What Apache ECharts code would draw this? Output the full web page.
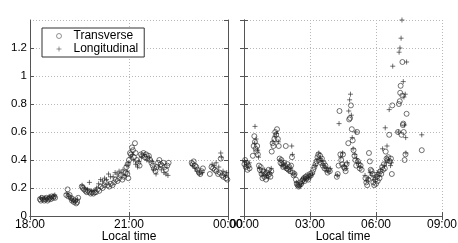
<!DOCTYPE html>
<html><head><meta charset="utf-8">
<script src="https://cdn.jsdelivr.net/npm/echarts@6/dist/echarts.min.js"></script>
<style>html,body{margin:0;padding:0;background:#fff}#c{width:458px;height:243px}</style>
</head><body><div id="c"></div>
<script>
// time = hours since 18:00 (0..15), value
const transverseTime = [
0.30,0.33,0.36,0.40,0.43,0.47,0.50,0.53,0.56,0.60,0.63,0.66,0.70,0.73,0.76,
1.10,1.14,1.16,1.20,1.24,1.27,1.30,1.33,1.36,1.40,1.43,1.46,
1.57,1.60,1.64,1.68,1.72,1.76,1.80,1.84,1.88,1.92,1.96,
2.00,2.05,2.10,2.15,2.20,2.25,2.30,2.35,2.40,2.45,
2.50,2.55,2.60,2.65,2.70,2.75,2.80,2.85,2.90,2.95,2.98,
2.92,2.96,3.00,3.03,3.06,3.09,3.12,3.15,3.18,3.20,3.24,3.28,3.32,
3.36,3.40,3.44,3.48,3.52,3.56,3.60,3.64,3.68,
3.72,3.76,3.80,3.84,3.88,3.92,3.96,4.00,4.04,4.08,4.12,4.16,4.20,
4.90,4.93,4.96,5.00,5.04,5.08,5.12,5.16,5.20,5.24,
5.45,5.50,5.55,5.60,5.65,5.70,5.75,5.78,5.82,5.86,5.90,5.94,5.98,
6.02,6.05,6.08,6.12,6.16,6.20,6.25,
6.40,6.44,6.47,6.50,6.53,6.56,6.60,6.63,
6.68,6.72,6.76,6.80,6.84,6.88,6.92,6.96,7.00,7.04,7.08,7.12,7.16,7.20,7.24,
7.26,7.30,7.34,7.38,7.42,7.46,7.50,7.54,7.58,
7.62,7.66,7.70,7.74,7.78,7.82,7.86,7.90,7.94,7.98,8.02,8.06,8.10,8.14,8.18,8.22,8.26,8.30,
8.36,8.40,8.44,8.48,8.52,8.56,8.60,8.64,
8.68,8.72,8.76,8.80,8.84,8.88,8.92,8.96,9.00,9.04,9.10,9.15,
9.20,9.25,9.30,9.34,9.38,9.42,9.46,9.50,9.54,9.58,9.62,9.66,9.70,9.75,9.80,9.85,9.90,
10.22,10.26,10.30,10.34,10.38,10.42,10.46,10.50,10.54,10.58,10.62,10.66,
10.74,10.78,10.82,10.86,10.90,10.94,10.98,11.02,11.06,11.10,11.14,11.18,11.22,11.26,11.30,11.35,
11.52,11.56,11.60,11.64,11.68,11.72,11.76,11.80,11.84,
11.88,11.92,11.96,12.00,12.04,12.08,12.12,12.16,12.20,12.24,12.28,12.32,12.36,12.40,12.44,12.48,
12.52,12.56,12.60,12.64,12.68,12.72,12.74,
13.00,13.04,13.08,13.10,13.12,13.16,13.20,13.20,13.22,13.24,13.26,13.30,13.34,13.39,
14.08
];
const transverseValue = [
.12,.11,.13,.12,.11,.12,.13,.11,.12,.13,.12,.14,.13,.14,.13,
.15,.19,.14,.15,.13,.11,.12,.10,.11,.09,.10,.13,
.21,.20,.19,.18,.17,.18,.17,.16,.17,.16,.17,
.17,.19,.18,.21,.20,.22,.24,.22,.21,.23,
.22,.24,.26,.25,.27,.29,.26,.28,.31,.30,.27,
.35,.37,.40,.45,.44,.49,.47,.42,.52,.45,.40,.38,.36,
.44,.43,.45,.42,.44,.41,.43,.40,.38,
.36,.34,.32,.35,.38,.40,.37,.36,.38,.35,.33,.36,.38,
.38,.37,.39,.36,.35,.33,.31,.30,.32,.34,
.30,.35,.34,.33,.32,.30,.31,.41,.29,.28,.30,.27,.26,
.37,.40,.35,.38,.33,.36,.34,
.43,.50,.57,.53,.48,.46,.50,.44,
.36,.33,.35,.30,.27,.32,.28,.30,.26,.31,.29,.33,.30,.28,.32,
.46,.52,.50,.55,.60,.58,.62,.55,.50,
.41,.38,.40,.37,.35,.38,.36,.50,.34,.37,.33,.35,.32,.36,.42,.31,.29,.30,
.26,.23,.22,.21,.22,.24,.23,.25,
.26,.27,.25,.28,.27,.29,.26,.28,.30,.29,.31,.33,
.35,.37,.39,.42,.44,.40,.43,.38,.41,.36,.38,.34,.36,.33,.31,.33,.32,
.28,.30,.36,.75,.44,.40,.37,.44,.35,.34,.32,.37,
.52,.69,.70,.79,.62,.54,.47,.43,.40,.36,.60,.39,.37,.34,.36,.33,
.27,.24,.22,.26,.45,.39,.33,.32,.30,
.24,.22,.26,.23,.28,.25,.30,.27,.32,.30,.35,.33,.37,.34,.46,.41,
.40,.42,.58,.39,.41,.30,.79,
.60,.80,.82,.88,.93,.58,1.10,.86,.65,.66,.60,.40,.44,.73,
.47
];
const longitudinalTime = [
0.32,0.38,0.45,0.52,0.58,0.64,0.71,0.75,
1.12,1.18,1.25,1.31,1.38,1.44,
1.58,1.66,1.74,1.80,1.86,1.94,
2.02,2.08,2.14,2.20,2.26,2.32,2.38,2.44,
2.52,2.58,2.64,2.70,2.76,2.82,2.88,2.94,
2.94,2.99,3.05,3.10,3.14,3.20,3.26,3.30,
3.38,3.46,3.54,3.62,3.70,
3.74,3.82,3.90,3.98,4.06,4.12,4.18,
4.92,5.00,5.06,5.14,5.22,
5.52,5.58,5.64,5.72,5.78,5.80,5.85,5.92,5.96,
6.03,6.10,6.18,6.24,
6.50,6.48,6.55,6.62,6.66,
6.70,6.78,6.86,6.94,7.02,7.10,7.18,7.24,
7.32,7.40,7.48,7.56,
7.64,7.72,7.80,7.88,7.96,8.04,8.12,8.17,8.20,8.28,
8.38,8.46,8.54,8.62,
8.70,8.78,8.86,8.94,9.02,9.12,
9.24,9.32,9.40,9.48,9.56,9.64,9.72,9.82,9.92,
10.24,10.32,10.40,10.48,10.56,10.64,10.70,
10.76,10.80,10.84,10.88,10.92,10.96,11.04,11.08,11.12,11.20,11.28,
11.50,11.58,11.66,11.74,11.82,
11.90,11.98,12.06,12.14,12.22,12.30,12.38,12.42,12.46,12.50,
12.55,12.60,12.66,12.70,12.76,
13.02,13.05,13.09,13.14,13.18,13.24,13.27,13.30,13.33,13.35,13.39,13.36,
14.08
];
const longitudinalValue = [
.13,.12,.13,.12,.14,.13,.14,.15,
.16,.14,.12,.11,.10,.12,
.22,.20,.19,.24,.18,.18,
.20,.23,.26,.25,.27,.26,.30,.28,
.28,.31,.30,.32,.31,.33,.29,.32,
.36,.38,.42,.44,.40,.37,.35,.39,
.42,.44,.40,.42,.39,
.33,.30,.35,.33,.31,.30,.29,
.36,.34,.32,.30,.31,
.37,.36,.38,.35,.45,.42,.32,.29,.31,
.39,.37,.35,.38,
.64,.52,.55,.47,.42,
.34,.31,.29,.33,.29,.27,.31,.34,
.53,.57,.59,.53,
.40,.36,.37,.34,.35,.32,.34,.50,.44,.30,
.24,.22,.21,.23,
.27,.26,.28,.27,.29,.30,
.36,.40,.45,.41,.39,.36,.34,.32,.34,
.29,.66,.42,.45,.36,.34,.38,
.75,.83,.87,.72,.56,.48,.44,.60,.41,.38,.35,
.29,.25,.27,.31,.29,
.26,.28,.31,.29,.33,.48,.36,.63,.38,.50,
.40,.76,.36,.38,1.07,
.60,1.17,1.20,1.27,1.40,.96,.85,.65,.87,.56,1.10,.45,
.58
];
const xTickHours = [18, 21, 24, 0, 3, 6, 9];
const yTicks = [0, 0.2, 0.4, 0.6, 0.8, 1, 1.2];

function split(times, values) {
  const left = [], right = [];
  times.forEach((t, i) => {
    if (t < 6) left.push([18 + t, values[i]]);
    else right.push([t - 6, values[i]]);
  });
  return [left, right];
}
const [tL, tR] = split(transverseTime, transverseValue);
const [lL, lR] = split(longitudinalTime, longitudinalValue);

const font = "'Liberation Sans', Arial, Helvetica, sans-serif";
const fmt = v => String(((v % 24) + 24) % 24).padStart(2, '0') + ':00';
const gridLine = { show: true, lineStyle: { color: '#b8b8b8', type: [1, 2], width: 1 } };
const axLine = { show: true, lineStyle: { color: '#555', width: 1 } };
const tick = { show: true, inside: true, length: 4, lineStyle: { color: '#555' } };

function xAx(gi, min, max, main) {
  return {
    type: 'value', gridIndex: gi, min, max, interval: 3,
    position: main ? 'bottom' : 'top',
    axisLine: axLine, axisTick: tick,
    splitLine: main ? gridLine : { show: false },
    axisLabel: main ? { show: true, formatter: fmt, color: '#000', fontSize: 12, fontFamily: font, margin: 3 } : { show: false },
    name: main ? 'Local time' : '', nameLocation: 'middle', nameGap: 15, nameMoveOverlap: false,
    nameTextStyle: { color: '#000', fontSize: 12, fontFamily: font, verticalAlign: 'top' }
  };
}
function yAx(gi, main, labels) {
  return {
    type: 'value', gridIndex: gi, min: 0, max: 1.4, interval: 0.2,
    position: main ? 'left' : 'right',
    axisLine: axLine, axisTick: tick,
    splitLine: main ? gridLine : { show: false },
    axisLabel: (main && labels) ? { show: true, color: '#000', fontSize: 11.5, fontFamily: font, margin: 3, showMaxLabel: false,
      formatter: v => yTicks.some(t => Math.abs(t - v) < 1e-6) ? String(+v.toFixed(1)) : '' } : { show: false }
  };
}
const circleStyle = { color: 'none', borderColor: '#222', borderWidth: 0.8 };
const plusStyle = { color: 'none', borderColor: '#222', borderWidth: 0.8 };
const plusPath = 'path://M5,0L5,10M0,5L10,5';

function sc(name, data, xi, yi) {
  const isT = name === 'Transverse';
  return {
    name, type: 'scatter', data, xAxisIndex: xi, yAxisIndex: yi,
    symbol: isT ? 'circle' : plusPath, symbolSize: 5,
    itemStyle: isT ? circleStyle : plusStyle,
    emphasis: { disabled: true }, animation: false, z: isT ? 3 : 4
  };
}

const chart = echarts.init(document.getElementById('c'), null, { renderer: 'canvas' });
chart.setOption({
  animation: false,
  backgroundColor: '#fff',
  grid: [
    { left: 30, top: 20, width: 198, height: 196, show: false, containLabel: false, outerBoundsMode: 'none' },
    { left: 244, top: 20, width: 198, height: 196, show: false, containLabel: false, outerBoundsMode: 'none' }
  ],
  xAxis: [xAx(0, 18, 24, true), xAx(1, 0, 9, true), xAx(0, 18, 24, false), xAx(1, 0, 9, false)],
  yAxis: [yAx(0, true, true), yAx(1, true, false), yAx(0, false, false), yAx(1, false, false)],
  legend: {
    left: 42, top: 28, orient: 'vertical',
    backgroundColor: '#fff', borderColor: '#333', borderWidth: 1, borderRadius: 0,
    padding: [2, 6, 2, 12], itemGap: 1, itemWidth: 5, itemHeight: 5,
    textStyle: { color: '#000', fontSize: 12, fontFamily: font, padding: [0, 0, 0, 7] },
    itemStyle: { borderWidth: 0.6 },
    data: [{ name: 'Transverse', icon: 'circle' }, { name: 'Longitudinal', icon: plusPath }],
    selectedMode: false
  },
  series: [sc('Transverse', tL, 0, 0), sc('Longitudinal', lL, 0, 0), sc('Transverse', tR, 1, 1), sc('Longitudinal', lR, 1, 1)]
});
</script></body></html>
